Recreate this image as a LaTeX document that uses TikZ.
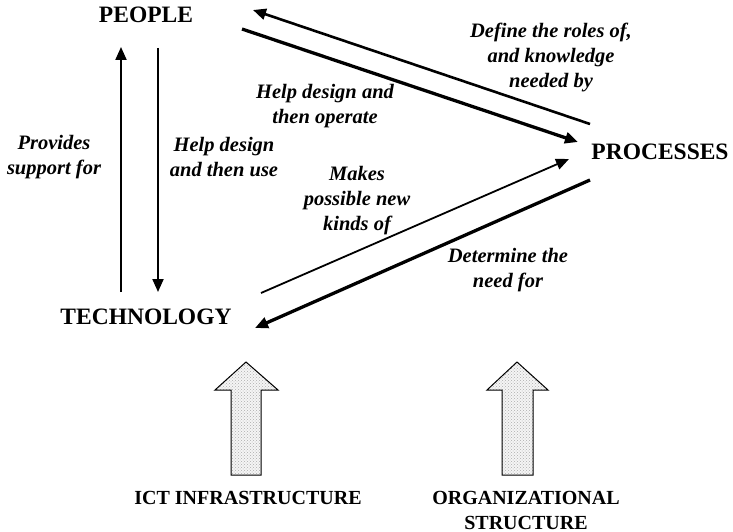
\documentclass[tikz,border=0pt]{standalone}
\usepackage{fontspec}
\setmainfont{Liberation Serif}
\usetikzlibrary{arrows.meta,patterns}

\begin{document}
\begin{tikzpicture}[x=1pt,y=-1pt]

       \tikzstyle{arrow} = [line width=2pt,->,>={Triangle[length=13pt,width=11pt]}]
       \tikzset{heavy/.style = {line width=3.3pt}, }
       \tikzset{area/.style = {font=\fontsize{23.5}{28}\selectfont\bfseries}, }
       \tikzset{role/.style = {align=center, font=\fontsize{20.5}{25}\selectfont\bfseries\itshape}, }
       \tikzset{input/.style = {align=center, font=\fontsize{20}{25}\selectfont\bfseries}, }
       \tikzset{fatarrow/.style = {draw, line width=1pt, preaction={fill=gray!8}, pattern=crosshatch dots, pattern color=gray!65}, }
       \useasboundingbox (0,0) rectangle (733,532);

       \node[area] (people) at (146,15) {PEOPLE};
       \node[area] (tech) at (146,317) {TECHNOLOGY};
       \node[area] (proc) at (660,152) {PROCESSES};

       % people <-> technology
       \draw[arrow] ([xshift=-25pt,yshift=25pt]tech.center) -- ([xshift=-25pt,yshift=-32pt]people.center);
       \draw[arrow] ([xshift=12pt,yshift=-33pt]people.center) -- ([xshift=12pt,yshift=25pt]tech.center);
       % people <-> processes
       \draw[arrow,heavy] ([xshift=96pt,yshift=-14pt]people.center) -- ([xshift=-82pt,yshift=10pt]proc.center);
       \draw[arrow,line width=2.6pt] ([xshift=-70pt,yshift=28pt]proc.center) -- ([xshift=107pt,yshift=5pt]people.center);
       % technology <-> processes
       \draw[arrow,line width=1.8pt] ([xshift=115pt,yshift=24pt]tech.center) -- ([xshift=-91pt,yshift=-7pt]proc.center);
       \draw[arrow,heavy] ([xshift=-70pt,yshift=-28pt]proc.center) -- ([xshift=109pt,yshift=-11pt]tech.center);

       \node[role] (support) at (54,157) {Provides\\support for};
       \node[role] (use) at (224,157) {Help design\\and then use};
       \node[role] (operate) at (325,106) {Help design and\\then operate};
       \node[role] (roles) at (551,57) {Define the roles of,\\and knowledge\\needed by};
       \node[role] (kinds) at (357,201) {Makes\\possible new\\kinds of};
       \node[role] (need) at (508,270) {Determine the\\need for};

       % inputs from below
       \draw[fatarrow] (246,362) -- (278,390) -- (261,390) -- (261,475) -- (231,475) -- (231,390) -- (215,390) -- cycle;
       \draw[fatarrow] (517,362) -- (548,390) -- (533,390) -- (533,475) -- (502,475) -- (502,390) -- (487,390) -- cycle;
       \node[input] (ict) at (248,498) {ICT INFRASTRUCTURE};
       \node[input] (org) at (526,510) {ORGANIZATIONAL\\STRUCTURE};

\end{tikzpicture}
\end{document}
